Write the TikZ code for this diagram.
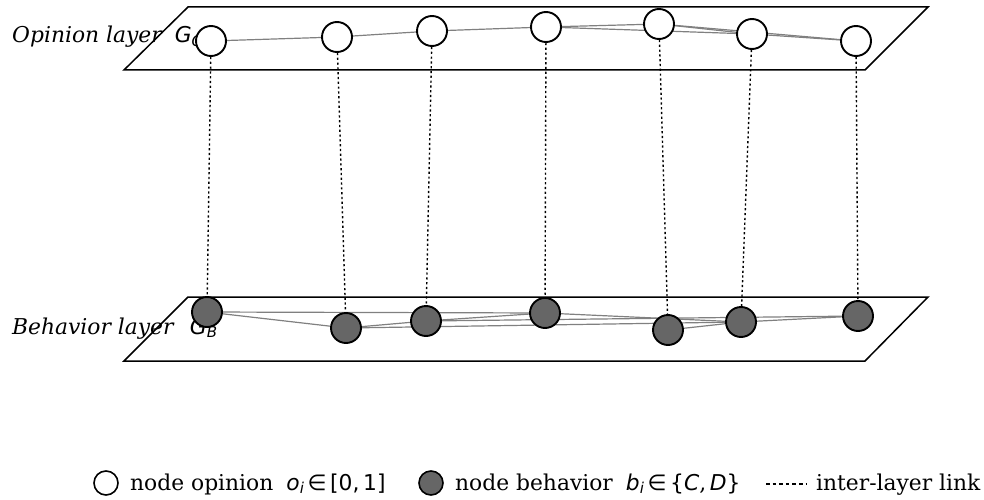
\documentclass[tikz,border=0pt]{standalone}
\usepackage{fontspec}
\setmainfont{DejaVu Serif}
\newfontfamily\mathsans{DejaVu Sans}
\usetikzlibrary{backgrounds}
\newcommand{\mvar}[1]{{\mathsans\itshape #1}}
\newcommand{\msym}[1]{{\mathsans #1}}
\newcommand{\msub}[2]{\mvar{#1}\raisebox{-0.35ex}{\fontsize{15}{15}\selectfont\mvar{#2}}}
\tikzset{
  opn/.style={circle, draw=black, fill=white, line width=1.9pt, minimum size=30pt, inner sep=0pt},
  beh/.style={circle, draw=black, fill=black!60, line width=1.9pt, minimum size=30pt, inner sep=0pt},
  plane/.style={draw=black, line width=1.5pt, line join=miter},
  intra/.style={draw=black!50, line width=1.2pt},
  inter/.style={draw=black, line width=1.4pt, dash pattern=on 2.2pt off 2.6pt},
  lbl/.style={anchor=base west, inner sep=0pt, font=\fontsize{21.8}{26}\selectfont},
}
\begin{document}
\begin{tikzpicture}[x=1pt, y=-1pt]
\useasboundingbox (0,0) rectangle (984,500);

% opinion layer nodes
\node[opn] (o1) at (211,41) {};
\node[opn] (o2) at (337,37) {};
\node[opn] (o3) at (432,31) {};
\node[opn] (o4) at (546,27) {};
\node[opn] (o5) at (659,24) {};
\node[opn] (o6) at (752,34) {};
\node[opn] (o7) at (856,41) {};

% behaviour layer nodes
\node[beh] (b1) at (207,312) {};
\node[beh] (b2) at (346,328) {};
\node[beh] (b3) at (426,321) {};
\node[beh] (b4) at (545,313) {};
\node[beh] (b5) at (668,330) {};
\node[beh] (b6) at (741,322) {};
\node[beh] (b7) at (858,316) {};

\begin{scope}[on background layer]
  % layer labels
  \node[lbl] (lo) at (12,43) {\textit{Opinion layer}\hspace{0.55em}\msub{G}{O}};
  \node[lbl] (lb) at (12,334) {\textit{Behavior layer}\hspace{0.7em}\msub{G}{B}};

  % layer planes
  \coordinate (p1) at (188,7);  \coordinate (p2) at (928,7);
  \coordinate (p3) at (865,70); \coordinate (p4) at (124,70);
  \draw[plane] (p1) -- (p2) -- (p3) -- (p4) -- cycle;
  \coordinate (q1) at (188,297); \coordinate (q2) at (928,297);
  \coordinate (q3) at (865,361); \coordinate (q4) at (124,361);
  \draw[plane] (q1) -- (q2) -- (q3) -- (q4) -- cycle;

  % intra-layer edges
  \draw[intra] (o1) -- (o2);
  \draw[intra] (o2) -- (o3);
  \draw[intra] (o3) -- (o4);
  \draw[intra] (o4) -- (o5);
  \draw[intra] (o4) -- (o6);
  \draw[intra] (o5) -- (o6);
  \draw[intra] (o5) -- (o7);
  \draw[intra] (o6) -- (o7);

  \draw[intra] (b1) -- (b2);
  \draw[intra] (b1) -- (b4);
  \draw[intra] (b2) -- (b3);
  \draw[intra] (b2) -- (b6);
  \draw[intra] (b3) -- (b4);
  \draw[intra] (b3) -- (b7);
  \draw[intra] (b4) -- (b6);
  \draw[intra] (b5) -- (b6);
  \draw[intra] (b6) -- (b7);

  % inter-layer links
  \foreach \i in {1,...,7} { \draw[inter] (o\i) -- (b\i); }
\end{scope}

% legend
\node[opn, minimum size=24pt, line width=1.6pt] (lg1) at (106,483) {};
\node[lbl] (t1) at (130,490) {node opinion\hspace{0.6em}\msub{o}{i}\,\msym{∈}\,\msym{[0,\,1]}};
\node[beh, minimum size=24pt, line width=1.6pt] (lg2) at (431,483) {};
\node[lbl] (t2) at (455,490) {node behavior\hspace{0.6em}\msub{b}{i}\,\msym{∈}\,\msym{\{}\mvar{C},\,\mvar{D}\msym{\}}};
\coordinate (l1) at (766,484);
\coordinate (l2) at (806,484);
\draw[inter, line width=1.4pt, dash pattern=on 3.6pt off 3pt] (l1) -- (l2);
\node[lbl] (t3) at (816,490) {inter-layer link};
\end{tikzpicture}
\end{document}
